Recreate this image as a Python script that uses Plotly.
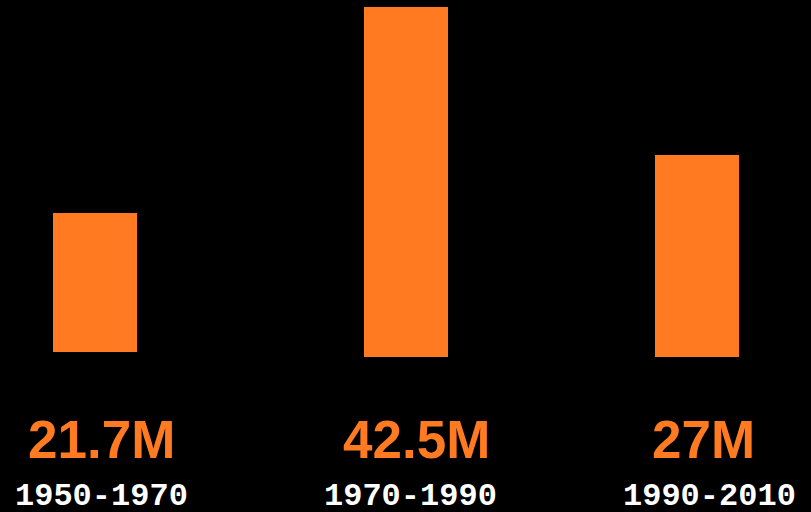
import plotly.graph_objects as go

periods = ["1950-1970", "1970-1990", "1990-2010"]
values = [21.7, 42.5, 27.0]
value_labels = ["21.7M", "42.5M", "27M"]

ORANGE = "#FF7A21"
W, H = 811, 512

# per-bar layout (pixels): x extents, y top/bottom
bar_x = [(53, 137), (364, 448), (655, 739)]
bar_y = [(213, 352), (7, 357), (155, 357)]
val_cx = [102, 416, 703]
per_cx = [101, 410, 709]

fig = go.Figure()
for i, (p, v) in enumerate(zip(periods, values)):
    n = "" if i == 0 else str(i + 1)
    fig.add_trace(go.Bar(x=[p], y=[v], marker=dict(color=ORANGE, line=dict(width=0)),
                         width=1, xaxis="x" + n, yaxis="y" + n, showlegend=False,
                         hoverinfo="skip"))
    x0, x1 = bar_x[i]
    yt, yb = bar_y[i]
    fig.update_layout(**{
        "xaxis" + n: dict(domain=[x0 / W, x1 / W], range=[-0.5, 0.5], visible=False,
                          anchor="y" + n, fixedrange=True),
        "yaxis" + n: dict(domain=[1 - yb / H, 1 - yt / H], range=[0, v], visible=False,
                          anchor="x" + n, fixedrange=True),
    })
    fig.add_annotation(text=value_labels[i], x=val_cx[i] / W, y=1 - 439 / H,
                       xref="paper", yref="paper", xanchor="center", yanchor="middle",
                       showarrow=False,
                       font=dict(family="Liberation Sans", size=53, color=ORANGE, weight="bold"))
    fig.add_annotation(text=p, x=per_cx[i] / W, y=1 - 496 / H,
                       xref="paper", yref="paper", xanchor="center", yanchor="middle",
                       showarrow=False,
                       font=dict(family="Liberation Mono", size=32, color="white", weight="bold"))

fig.update_layout(width=W, height=H, margin=dict(l=0, r=0, t=0, b=0),
                  paper_bgcolor="black", plot_bgcolor="black")
fig.write_html("out.html", config={"displayModeBar": False},
               post_script="document.body.style.margin='0';document.body.style.background='black';")
